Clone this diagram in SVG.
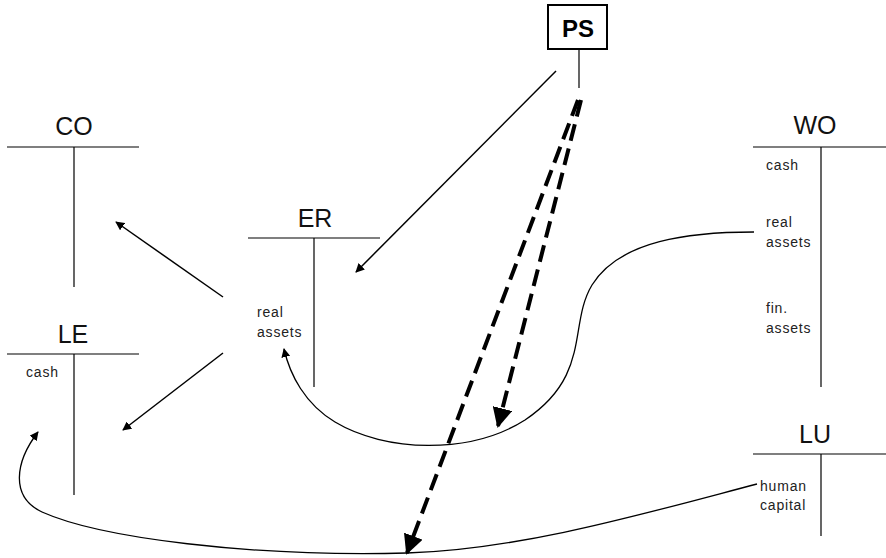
<svg xmlns="http://www.w3.org/2000/svg" width="886" height="558" viewBox="0 0 886 558">
<defs>
<style>
.t{font-family:"Liberation Sans",Arial,sans-serif;fill:#000}
.h{font-size:25px;text-anchor:middle;fill:#111}
.s{font-size:14px;fill:#222;letter-spacing:0.8px}
.ln{stroke:#000;stroke-width:1.2;fill:none}
.ar{stroke:#000;stroke-width:1.5;fill:none}
.cv{stroke:#000;stroke-width:1.3;fill:none}
.ds{stroke:#000;stroke-width:4;fill:none;stroke-dasharray:17 8}
</style>
<marker id="a" viewBox="0 0 10 10" refX="9" refY="5" markerWidth="9" markerHeight="9" markerUnits="userSpaceOnUse" orient="auto"><path d="M0,0 L10,5 L0,10 z" fill="#000"/></marker>
<marker id="ad" viewBox="0 0 10 10" refX="9" refY="5" markerWidth="5" markerHeight="5" orient="auto"><path d="M0,0 L10,5 L0,10 z" fill="#000"/></marker>
</defs>
<g id="PS">
<rect x="548" y="5" width="59" height="44" fill="#fff" stroke="#000" stroke-width="2"/>
<text class="t" x="578" y="37" font-size="24" font-weight="bold" text-anchor="middle">PS</text>
<line class="ln" x1="579" y1="49" x2="579" y2="88"/>
</g>
<g id="CO">
<text class="t h" x="74" y="135">CO</text>
<line class="ln" x1="7" y1="147" x2="139" y2="147"/>
<line class="ln" x1="74" y1="147" x2="74" y2="287"/>
</g>
<g id="LE">
<text class="t h" x="73" y="343">LE</text>
<line class="ln" x1="7" y1="354" x2="139" y2="354"/>
<line class="ln" x1="74" y1="354" x2="74" y2="495"/>
<text class="t s" x="26" y="377">cash</text>
</g>
<g id="ER">
<text class="t h" x="315" y="227">ER</text>
<line class="ln" x1="248" y1="238" x2="380" y2="238"/>
<line class="ln" x1="314" y1="238" x2="314" y2="387"/>
<text class="t s" x="257" y="317">real</text>
<text class="t s" x="257" y="337">assets</text>
</g>
<g id="WO">
<text class="t h" x="815" y="134">WO</text>
<line class="ln" x1="753" y1="147" x2="886" y2="147"/>
<line class="ln" x1="821" y1="147" x2="821" y2="387"/>
<text class="t s" x="766" y="170">cash</text>
<text class="t s" x="766" y="227">real</text>
<text class="t s" x="766" y="247">assets</text>
<text class="t s" x="766" y="313">fin.</text>
<text class="t s" x="766" y="333">assets</text>
</g>
<g id="LU">
<text class="t h" x="815" y="443">LU</text>
<line class="ln" x1="753" y1="454" x2="886" y2="454"/>
<line class="ln" x1="821" y1="454" x2="821" y2="536"/>
<text class="t s" x="760" y="491">human</text>
<text class="t s" x="760" y="510">capital</text>
</g>
<g id="connectors">
<line class="ar" x1="223" y1="297" x2="116" y2="222" marker-end="url(#a)"/>
<line class="ar" x1="223" y1="353" x2="123" y2="430" marker-end="url(#a)"/>
<line class="ar" x1="556" y1="71" x2="356" y2="272" marker-end="url(#a)"/>
<path class="cv" d="M754,232 C690,232 620,240 592,285 C568,325 592,375 525,420 C470,455 385,452 335,422 C305,404 290,375 284,349" marker-end="url(#a)"/>
<path class="cv" d="M757,484 C650,512 520,550 407,553 C250,557 100,538 42,512 C10,497 15,462 38,432" marker-end="url(#a)"/>
<line class="ds" x1="581" y1="100" x2="498" y2="426" marker-end="url(#ad)"/>
<line class="ds" x1="578" y1="100" x2="407" y2="553" marker-end="url(#ad)"/>
</g>
</svg>
